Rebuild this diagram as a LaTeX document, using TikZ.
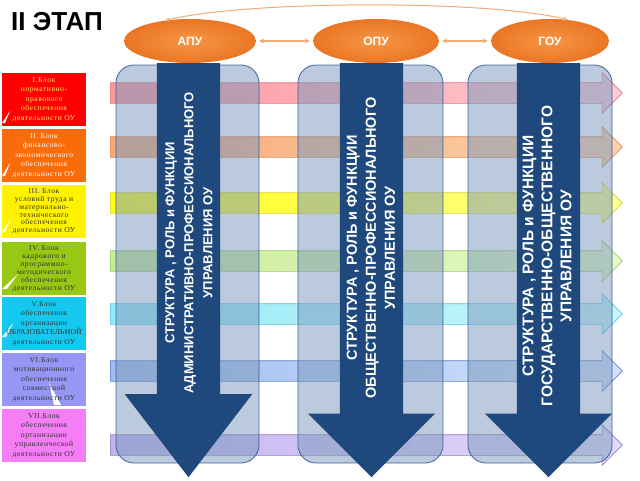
\documentclass[tikz,border=0pt]{standalone}
\usepackage{fontspec}
\setsansfont{Liberation Sans}
\newfontfamily\blokfont[LetterSpace=7]{Liberation Serif}
\usepackage{tikz}
\usetikzlibrary{shapes.geometric, shapes.arrows, positioning}

\definecolor{navy}{RGB}{31,73,125}
\definecolor{colfill}{RGB}{120,150,185}
\definecolor{coledge}{RGB}{47,85,151}
\definecolor{ellorange}{RGB}{234,118,36}
\definecolor{elllight}{RGB}{246,150,70}
\definecolor{linkorange}{RGB}{242,170,120}

\begin{document}
\begin{tikzpicture}[
        x=1pt, y=-1pt,
        blok/.style={
            rectangle, minimum width=84pt, minimum height=53pt, inner sep=1pt,
            align=center, font=\blokfont\fontsize{7.6}{9.4}\selectfont, text=black!80
        },
        wedge/.style n args={6}{
            path picture={\fill[white] ([shift={(#1pt,#2pt)}]path picture bounding box.south west)
                -- ++(#3pt,#4pt) -- ++(#5pt,#6pt) -- cycle;}
        },
        upr/.style={
            ellipse, minimum height=44pt, inner sep=0pt, text=white,
            font=\sffamily\bfseries\fontsize{12}{14}\selectfont,
            inner color=elllight, outer color=ellorange
        },
        column/.style={
            rectangle, rounded corners=18pt, draw=coledge, line width=0.8pt,
            fill=colfill, fill opacity=0.5, draw opacity=0.9,
            minimum height=398pt
        },
        band/.style={
            single arrow, single arrow head extend=10pt, single arrow tip angle=90,
            inner xsep=0pt, inner ysep=10pt, minimum height=512pt,
            line width=0.6pt, anchor=west
        },
        navyarrow/.style={
            single arrow, fill=navy, inner xsep=0pt, inner ysep=31.5pt,
            single arrow head extend=32pt, minimum height=414pt,
            rotate=-90, anchor=west
        },
        coltext/.style={
            rotate=90, align=center, text=white,
            font=\sffamily\bfseries\fontsize{14.5}{19}\selectfont
        },
        link/.style={<->, >=stealth, line width=1.2pt, color=linkorange}
    ]
        \useasboundingbox (0,0) rectangle (640,480);

        % Title
        \node[font=\sffamily\bfseries\fontsize{26}{30}\selectfont, inner sep=0pt] (title) at (57,22) {II ЭТАП};

        % Levels of management
        \node[upr, minimum width=132pt] (apu) at (190,41) {АПУ};
        \node[upr, minimum width=126pt] (opu) at (376,41) {ОПУ};
        \node[upr, minimum width=118pt] (gou) at (550,41) {ГОУ};
        \draw[link, shorten >=3pt, shorten <=3pt] (apu) -- (opu);
        \draw[link, shorten >=3pt, shorten <=3pt] (opu) -- (gou);
        \draw[link, line width=1pt] (apu.140) .. controls (250,0) and (490,0) .. (gou.50);

        % Blocks
        \node[blok, fill=red, text=orange!30!yellow!60, wedge={0}{3}{8}{12}{-5}{-12}] (bl1) at (44,99.5)
            {I.Блок\\нормативно-\\правового\\обеспечения\\деятельности ОУ};
        \node[blok, fill={rgb,255:red,250;green,108;blue,10}, text=white, wedge={0}{6}{8}{13}{-5}{-13}] (bl2) at (44,155.5)
            {II. Блок\\финансово-\\экономического\\обеспечения\\деятельности ОУ};
        \node[blok, fill=yellow, font=\blokfont\fontsize{7.6}{7.8}\selectfont, wedge={0}{6}{8}{12}{-5}{-12}] (bl3) at (44,211.5)
            {III. Блок\\условий труда и\\материально-\\технического\\обеспечения\\деятельности ОУ};
        \node[blok, fill={rgb,255:red,150;green,200;blue,20}, font=\blokfont\fontsize{7.6}{8}\selectfont, wedge={0}{6}{16}{15}{-11}{-15}] (bl4) at (44,268.5)
            {IV. Блок\\кадрового и\\программно-\\методического\\обеспечения\\деятельности ОУ};
        \node[blok, fill={rgb,255:red,20;green,200;blue,240}, wedge={0}{13}{11}{14}{-7}{-14}] (bl5) at (44,323.5)
            {V.Блок\\обеспечения\\организации\\{\addfontfeature{LetterSpace=3}ОБРАЗОВАТЕЛЬНОЙ}\\деятельности ОУ};
        \node[blok, fill={rgb,255:red,150;green,150;blue,245}, wedge={52}{1}{-5}{22}{12}{-22}] (bl6) at (44,379.5)
            {VI.Блок\\мотивационного\\обеспечения\\совместной\\деятельности ОУ};
        \node[blok, fill={rgb,255:red,245;green,125;blue,245}] (bl7) at (44,435.5)
            {VII.Блок\\обеспечения\\организации\\управленческой\\деятельности ОУ};

        % Horizontal bands
        \node[band, left color={rgb,255:red,255;green,150;blue,155}, right color={rgb,255:red,250;green,205;blue,215}, draw={rgb,255:red,225;green,120;blue,135}] (hb1) at (110,93) {};
        \node[band, left color={rgb,255:red,245;green,170;blue,120}, right color={rgb,255:red,252;green,210;blue,170}, draw={rgb,255:red,220;green,140;blue,90}] (hb2) at (110,147) {};
        \node[band, left color={rgb,255:red,255;green,255;blue,20}, right color={rgb,255:red,255;green,255;blue,150}, draw={rgb,255:red,215;green,210;blue,60}] (hb3) at (110,203) {};
        \node[band, left color={rgb,255:red,200;green,235;blue,150}, right color={rgb,255:red,230;green,250;blue,200}, draw={rgb,255:red,160;green,200;blue,110}] (hb4) at (110,261) {};
        \node[band, left color={rgb,255:red,150;green,235;blue,248}, right color={rgb,255:red,200;green,245;blue,252}, draw={rgb,255:red,90;green,195;blue,225}] (hb5) at (110,314) {};
        \node[band, left color={rgb,255:red,160;green,190;blue,240}, right color={rgb,255:red,210;green,225;blue,252}, draw={rgb,255:red,100;green,130;blue,200}] (hb6) at (110,371) {};
        \node[band, left color={rgb,255:red,195;green,180;blue,240}, right color={rgb,255:red,228;green,218;blue,250}, draw={rgb,255:red,145;green,125;blue,195}] (hb7) at (110,445) {};

        % Columns
        \node[column, minimum width=143pt] (col1) at (187.5,264) {};
        \node[column, minimum width=145pt] (col2) at (370.5,264) {};
        \node[column, minimum width=144pt] (col3) at (540,264) {};

        % Down arrows
        \node[navyarrow, single arrow tip angle=75] (dn1) at (188.5,63) {};
        \node[navyarrow, single arrow tip angle=90] (dn2) at (371.5,63) {};
        \node[navyarrow, single arrow tip angle=90] (dn3) at (548.5,63) {};

        % Column texts
        \node[coltext, font=\sffamily\bfseries\fontsize{13}{19}\selectfont] (tx1) at (189,243)
            {СТРУКТУРА , РОЛЬ и ФУНКЦИИ\\АДМИНИСТРАТИВНО-ПРОФЕССИОНАЛЬНОГО\\УПРАВЛЕНИЯ ОУ};
        \node[coltext] (tx2) at (371,248)
            {СТРУКТУРА , РОЛЬ и ФУНКЦИИ\\ОБЩЕСТВЕННО-ПРОФЕССИОНАЛЬНОГО\\УПРАВЛЕНИЯ ОУ};
        \node[coltext, font=\sffamily\bfseries\fontsize{15.5}{19}\selectfont] (tx3) at (547,256)
            {СТРУКТУРА , РОЛЬ и ФУНКЦИИ\\ГОСУДАРСТВЕННО-ОБЩЕСТВЕННОГО\\УПРАВЛЕНИЯ ОУ};

    \end{tikzpicture}
\end{document}
